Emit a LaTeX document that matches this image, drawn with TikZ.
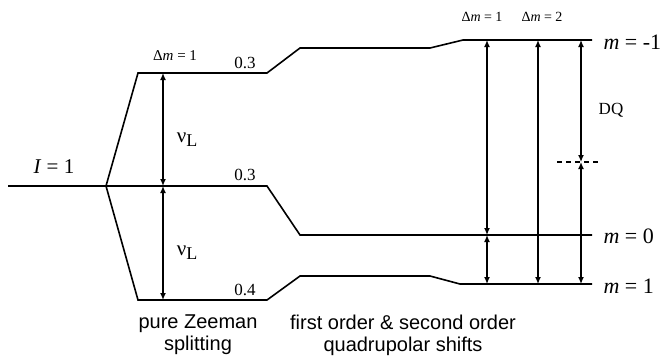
\documentclass[tikz,border=0pt]{standalone}
\usepackage{fontspec}
\setmainfont{Liberation Serif}
\setsansfont{Liberation Sans}
\usetikzlibrary{arrows.meta}
\begin{document}
\begin{tikzpicture}[x=1pt,y=-1pt]
        \tikzstyle{energy}=[line width=1.6pt]
        \tikzstyle{gap}=[line width=1.3pt,{Latex[length=7pt,width=6pt]}-{Latex[length=7pt,width=6pt]}]
        \tikzstyle{caption}=[font=\sffamily\fontsize{20}{22}\selectfont,align=center]
        \tikzstyle{value}=[font=\fontsize{17}{17}\selectfont]
        \tikzstyle{state}=[font=\fontsize{22}{22}\selectfont,anchor=west]
        \useasboundingbox (0,0) rectangle (666,360);
        \coordinate (i0) at (8,186);
        \coordinate (b) at (106,186);
        \coordinate (t1) at (138,73);
        \coordinate (t2) at (267,73);
        \coordinate (t3) at (300,48);
        \coordinate (t4) at (430,48);
        \coordinate (t5) at (463,40);
        \coordinate (t6) at (592,40);
        \coordinate (m2) at (267,186);
        \coordinate (m3) at (300,235);
        \coordinate (m6) at (592,235);
        \coordinate (u1) at (138,300);
        \coordinate (u2) at (267,300);
        \coordinate (u3) at (300,276);
        \coordinate (u4) at (430,276);
        \coordinate (u5) at (460,284);
        \coordinate (u6) at (592,284);
        \draw[energy] (i0) -- (b);
        \draw[energy] (b) -- (t1) -- (t2) -- (t3) -- (t4) -- (t5) -- (t6);
        \draw[energy] (b) -- (m2) -- (m3) -- (m6);
        \draw[energy] (b) -- (u1) -- (u2) -- (u3) -- (u4) -- (u5) -- (u6);
        \coordinate (zt) at (163,73);
        \coordinate (zm) at (163,186);
        \coordinate (zb) at (163,300);
        \draw[gap] (zm) -- (zt);
        \draw[gap] (zm) -- (zb);
        \coordinate (qa1) at (487,40);
        \coordinate (qa0) at (487,235);
        \coordinate (qa2) at (487,284);
        \coordinate (qb1) at (538,40);
        \coordinate (qb2) at (538,284);
        \coordinate (qc1) at (581,40);
        \coordinate (qc0) at (581,162);
        \coordinate (qc2) at (581,284);
        \draw[gap] (qa0) -- (qa1);
        \draw[gap] (qa0) -- (qa2);
        \draw[gap] (qb2) -- (qb1);
        \draw[gap] (qc0) -- (qc1);
        \draw[gap] (qc0) -- (qc2);
        \coordinate (dl) at (557,162);
        \coordinate (dr) at (600,162);
        \draw[line width=1.3pt,dash pattern=on 5pt off 4pt] (dl) -- (dr);
        \node[font=\fontsize{21}{21}\selectfont] (spin) at (54,167) {\textit{I} = 1};
        \node[font=\fontsize{15}{15}\selectfont] (dz) at (175,56) {Δ\textit{m} = 1};
        \node[font=\fontsize{14}{14}\selectfont] (dq1) at (482,17) {Δ\textit{m} = 1};
        \node[font=\fontsize{14}{14}\selectfont] (dq2) at (542,17) {Δ\textit{m} = 2};
        \node[value] (vt) at (245,63) {0.3};
        \node[value] (vm) at (245,175) {0.3};
        \node[value] (vb) at (245,290) {0.4};
        \node[font=\fontsize{21}{21}\selectfont] (nut) at (187,140) {ν\raisebox{-0.45ex}{\fontsize{18}{18}\selectfont L}};
        \node[font=\fontsize{21}{21}\selectfont] (nub) at (187,253) {ν\raisebox{-0.45ex}{\fontsize{18}{18}\selectfont L}};
        \node[font=\fontsize{17}{17}\selectfont] (dqlab) at (611,110) {DQ};
        \node[state] (sm) at (600,42) {\textit{m} = -1};
        \node[state] (s0) at (600,236) {\textit{m} = 0};
        \node[state] (sp) at (600,286) {\textit{m} = 1};
        \node[caption] (zeeman) at (198,335) {pure Zeeman\\splitting};
        \node[caption] (quad) at (403,335) {first order \& second order\\quadrupolar shifts};
\end{tikzpicture}
\end{document}
